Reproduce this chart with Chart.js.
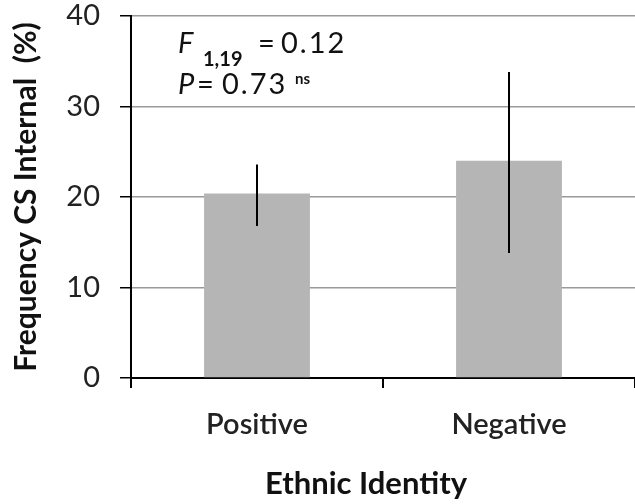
<!DOCTYPE html>
<html>
<head>
<meta charset="utf-8">
<script src="https://cdn.jsdelivr.net/npm/chart.js@4.4.1/dist/chart.umd.min.js"></script>
<style>
  html, body { margin: 0; padding: 0; background: #fff; }
  #wrap { width: 635px; height: 504px; }
</style>
</head>
<body>
<div id="wrap"><canvas id="chart"></canvas></div>
<script>
// Data
const categories = ['Positive', 'Negative'];
const means = [20.4, 24.0];
const errLow = [16.8, 13.8];
const errHigh = [23.6, 33.8];
const yTicks = [0, 10, 20, 30, 40];
const xTitle = 'Ethnic Identity';

// Draw the vertical error bars through the scales
const errorBars = {
    id: 'errorBars',
    afterDatasetsDraw(chart) {
        const ctx = chart.ctx;
        const x = chart.scales.x;
        const y = chart.scales.y;
        ctx.save();
        ctx.strokeStyle = '#000';
        ctx.lineWidth = 2;
        categories.forEach((c, i) => {
            const px = x.getPixelForValue(i);
            ctx.beginPath();
            ctx.moveTo(px, y.getPixelForValue(errLow[i]));
            ctx.lineTo(px, y.getPixelForValue(errHigh[i]));
            ctx.stroke();
        });
        ctx.restore();
    }
};

// F and P statistics in the top left of the plot, plus the x axis title
// (the original title sits a bit left of the plot centre)
const statsText = {
    id: 'statsText',
    afterDraw(chart) {
        const ctx = chart.ctx;
        ctx.save();
        ctx.fillStyle = '#111';
        ctx.textBaseline = 'alphabetic';
        ctx.font = 'italic 29px Lato';
        ctx.fillText('F', 178, 53);
        ctx.font = 'bold 20px Lato';
        ctx.fillText('1,19', 203, 66);
        ctx.font = '29px Lato';
        ctx.fillText('=', 258, 53);
        ctx.letterSpacing = '2px';
        ctx.fillText('0.12', 281, 53);
        ctx.letterSpacing = '0px';
        ctx.font = 'italic 29px Lato';
        ctx.fillText('P', 178, 94);
        ctx.font = '29px Lato';
        ctx.fillText('=', 197, 94);
        ctx.letterSpacing = '2px';
        ctx.fillText('0.73', 222, 94);
        ctx.letterSpacing = '0px';
        ctx.font = 'bold 15px Lato';
        ctx.fillText('ns', 295, 84);

        ctx.font = 'bold 31px Lato';
        ctx.fillStyle = '#111';
        ctx.textAlign = 'center';
        ctx.fillText(xTitle, 366, 494);
        ctx.restore();
    }
};

new Chart(document.getElementById('chart'), {
    type: 'bar',
    data: {
        labels: categories,
        datasets: [{
            data: means,
            backgroundColor: '#b5b5b5',
            borderWidth: 0,
            categoryPercentage: 0.84,
            barPercentage: 0.5
        }]
    },
    options: {
        responsive: true,
        maintainAspectRatio: false,
        animation: false,
        events: [],
        layout: { padding: { top: 16, right: 0, left: 0, bottom: 0 } },
        plugins: {
            legend: { display: false },
            tooltip: { enabled: false }
        },
        scales: {
            x: {
                grid: {
                    offset: true,
                    drawOnChartArea: false,
                    tickColor: '#000',
                    tickLength: 10,
                    lineWidth: 2
                },
                border: { color: '#000', width: 2 },
                ticks: {
                    color: '#222',
                    font: { family: 'Lato', size: 29, weight: '600' },
                    padding: 19
                },
                afterFit(scale) { scale.height = 126; }
            },
            y: {
                min: 0,
                max: 40,
                afterBuildTicks(scale) {
                    scale.ticks = yTicks.map(v => ({ value: v }));
                },
                grid: {
                    color: '#9a9a9a',
                    lineWidth: 1.5,
                    tickColor: '#000',
                    tickLength: 11
                },
                border: { color: '#000', width: 2 },
                ticks: {
                    color: '#222',
                    font: { family: 'Lato', size: 29 },
                    padding: 20
                },
                title: {
                    display: true,
                    text: 'Frequency CS Internal  (%)',
                    color: '#111',
                    font: { family: 'Lato', size: 30, weight: 'bold' },
                    padding: { top: 8, bottom: 0 }
                },
                afterFit(scale) {
                    scale.width = 131;
                    // let the top tick label overhang instead of pushing the plot down
                    scale.paddingTop = 0;
                    scale.paddingBottom = 0;
                }
            }
        }
    },
    plugins: [errorBars, statsText]
});
</script>
</body>
</html>
